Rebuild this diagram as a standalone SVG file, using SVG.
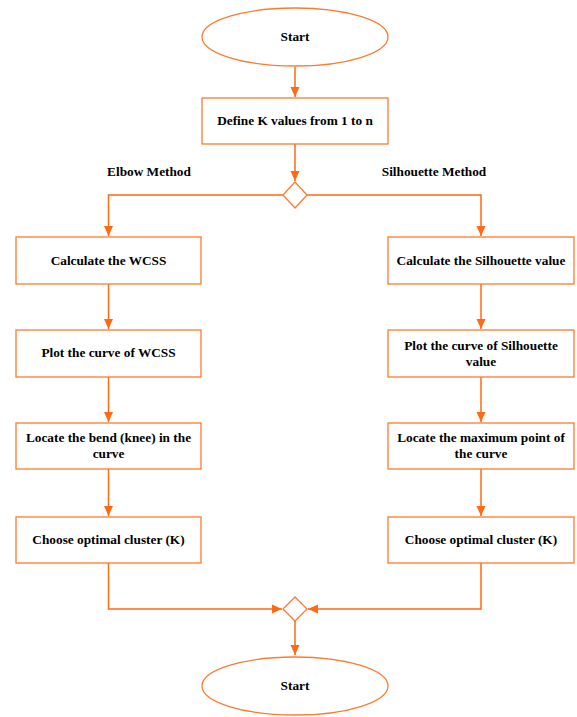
<svg xmlns="http://www.w3.org/2000/svg" width="577" height="717" viewBox="0 0 577 717">
<defs>
  <style>
    .shape { fill: #ffffff; stroke: #FF7A2E; stroke-width: 1.3; }
    .edge { fill: none; stroke: #FF6A13; stroke-width: 1.5; }
    .t { font-family: "Liberation Serif", "Times New Roman", serif; font-weight: bold; font-size: 13.3px; fill: #000000; text-anchor: middle; dominant-baseline: central; }
  </style>
  <marker id="arr" viewBox="0 0 10 10" refX="10" refY="5" markerWidth="10" markerHeight="10" markerUnits="userSpaceOnUse" orient="auto">
    <path d="M0,0.5 L10,5 L0,9.5 Z" fill="#FF6A13"/>
  </marker>
</defs>
<rect width="577" height="717" fill="#ffffff"/>

<g id="connectors">
  <line class="edge" x1="295" y1="67" x2="295" y2="97" marker-end="url(#arr)"/>
  <line class="edge" x1="295" y1="144" x2="295" y2="181" marker-end="url(#arr)"/>
  <polyline class="edge" points="283,195 108.5,195 108.5,236" marker-end="url(#arr)"/>
  <polyline class="edge" points="307,195 481,195 481,236" marker-end="url(#arr)"/>
  <line class="edge" x1="108.5" y1="284" x2="108.5" y2="329" marker-end="url(#arr)"/>
  <line class="edge" x1="108.5" y1="377" x2="108.5" y2="422" marker-end="url(#arr)"/>
  <line class="edge" x1="108.5" y1="469" x2="108.5" y2="516" marker-end="url(#arr)"/>
  <line class="edge" x1="481" y1="284" x2="481" y2="329" marker-end="url(#arr)"/>
  <line class="edge" x1="481" y1="377" x2="481" y2="422" marker-end="url(#arr)"/>
  <line class="edge" x1="481" y1="469" x2="481" y2="516" marker-end="url(#arr)"/>
  <polyline class="edge" points="108.5,563 108.5,609 282,609" marker-end="url(#arr)"/>
  <polyline class="edge" points="481,563 481,609 308,609" marker-end="url(#arr)"/>
  <line class="edge" x1="295" y1="621" x2="295" y2="655" marker-end="url(#arr)"/>
</g>

<g id="start-top">
  <ellipse class="shape" cx="295" cy="37" rx="93" ry="29"/>
  <text class="t" x="295" y="36.5">Start</text>
</g>
<g id="define-k">
  <rect class="shape" x="202" y="98" width="186" height="46"/>
  <text class="t" x="295" y="120.5">Define K values from 1 to n</text>
</g>
<g id="split">
  <polygon class="shape" points="295,182 307,195 295,208 283,195"/>
</g>
<g id="label-elbow">
  <text class="t" x="149" y="171.5">Elbow Method</text>
</g>
<g id="label-silhouette">
  <text class="t" x="434" y="171.5">Silhouette Method</text>
</g>

<g id="wcss">
  <rect class="shape" x="16" y="237" width="185" height="47"/>
  <text class="t" x="108.5" y="260.5">Calculate the WCSS</text>
</g>
<g id="plot-wcss">
  <rect class="shape" x="16" y="330" width="185" height="47"/>
  <text class="t" x="108.5" y="352.5">Plot the curve of WCSS</text>
</g>
<g id="knee">
  <rect class="shape" x="16" y="423" width="185" height="46"/>
  <text class="t" x="108.5" y="437.5">Locate the bend (knee) in the</text>
  <text class="t" x="108.5" y="453.5">curve</text>
</g>
<g id="choose-left">
  <rect class="shape" x="16" y="517" width="185" height="46"/>
  <text class="t" x="108.5" y="539.5">Choose optimal cluster (K)</text>
</g>

<g id="silhouette">
  <rect class="shape" x="388" y="237" width="186" height="47"/>
  <text class="t" x="481" y="260.5">Calculate the Silhouette value</text>
</g>
<g id="plot-silhouette">
  <rect class="shape" x="388" y="330" width="186" height="47"/>
  <text class="t" x="481" y="345.5">Plot the curve of Silhouette</text>
  <text class="t" x="481" y="361.5">value</text>
</g>
<g id="maximum">
  <rect class="shape" x="388" y="423" width="186" height="46"/>
  <text class="t" x="481" y="437.5">Locate the maximum point of</text>
  <text class="t" x="481" y="453.5">the curve</text>
</g>
<g id="choose-right">
  <rect class="shape" x="388" y="517" width="186" height="46"/>
  <text class="t" x="481" y="539.5">Choose optimal cluster (K)</text>
</g>

<g id="merge">
  <polygon class="shape" points="295,597 307,609 295,621 283,609"/>
</g>
<g id="start-bottom">
  <ellipse class="shape" cx="295" cy="686" rx="93" ry="29"/>
  <text class="t" x="295" y="685.5">Start</text>
</g>
</svg>
